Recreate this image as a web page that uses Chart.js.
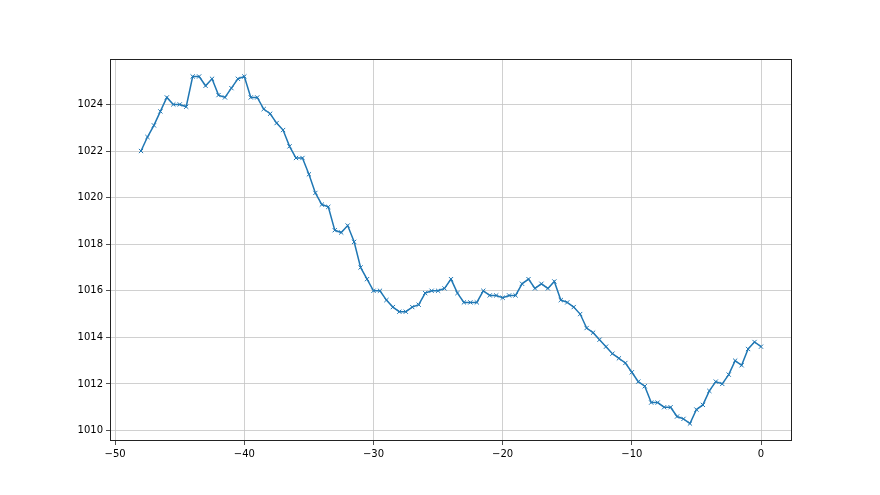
<!DOCTYPE html>
<html>
<head>
<meta charset="utf-8">
<script src="https://cdn.jsdelivr.net/npm/chart.js@4/dist/chart.umd.min.js"></script>
<style>
  html, body { margin: 0; padding: 0; background: #fff; }
  #wrap { width: 880px; height: 495px; }
</style>
</head>
<body>
<div id="wrap"><canvas id="myChart" width="880" height="495"></canvas></div>
<script>
// hours (x) and pressure readings (y)
var hours = [];
for (var h = -48; h <= 0; h += 0.5) hours.push(h);

var pressure = [
  1022.0, 1022.6, 1023.1, 1023.7, 1024.3, 1024.0, 1024.0, 1023.9, 1025.2, 1025.2,
  1024.8, 1025.1, 1024.4, 1024.3, 1024.7, 1025.1, 1025.2, 1024.3, 1024.3, 1023.8,
  1023.6, 1023.2, 1022.9, 1022.2, 1021.7, 1021.7, 1021.0, 1020.2, 1019.7, 1019.6,
  1018.6, 1018.5, 1018.8, 1018.1, 1017.0, 1016.5, 1016.0, 1016.0, 1015.6, 1015.3,
  1015.1, 1015.1, 1015.3, 1015.4, 1015.9, 1016.0, 1016.0, 1016.1, 1016.5, 1015.9,
  1015.5, 1015.5, 1015.5, 1016.0, 1015.8, 1015.8, 1015.7, 1015.8, 1015.8, 1016.3,
  1016.5, 1016.1, 1016.3, 1016.1, 1016.4, 1015.6, 1015.5, 1015.3, 1015.0, 1014.4,
  1014.2, 1013.9, 1013.6, 1013.3, 1013.1, 1012.9, 1012.5, 1012.1, 1011.9, 1011.2,
  1011.2, 1011.0, 1011.0, 1010.6, 1010.5, 1010.3, 1010.9, 1011.1, 1011.7, 1012.1,
  1012.0, 1012.4, 1013.0, 1012.8, 1013.5, 1013.8, 1013.6
];

var xTicks = [-50, -40, -30, -20, -10, 0];
var yTicks = [1010, 1012, 1014, 1016, 1018, 1020, 1022, 1024];

var points = hours.map((x, i) => ({ x: x, y: pressure[i] }));

// plain labels, unicode minus like matplotlib
function fmt(v) {
  return v < 0 ? '\u2212' + Math.abs(v) : String(v);
}

// box around the plot area
var frame = {
  id: 'frame',
  afterDraw(chart) {
    var a = chart.chartArea;
    var c = chart.ctx;
    c.save();
    c.strokeStyle = '#222';
    c.lineWidth = 1;
    c.strokeRect(a.left + 0.5, a.top + 0.5, a.right - a.left - 1, a.bottom - a.top - 1);
    c.restore();
  }
};

var ctx = document.getElementById('myChart').getContext('2d');
new Chart(ctx, {
  type: 'line',
  data: {
    datasets: [{
      data: points,
      borderColor: '#1f77b4',
      borderWidth: 1.5,
      pointStyle: 'crossRot',
      pointRadius: 3,
      pointBorderColor: '#1f77b4',
      pointBorderWidth: 1,
      tension: 0
    }]
  },
  plugins: [frame],
  options: {
    responsive: false,
    animation: false,
    layout: { padding: { left: 0, top: 59, right: 88, bottom: 0 } },
    plugins: { legend: { display: false }, tooltip: { enabled: false } },
    scales: {
      x: {
        type: 'linear',
        min: -50.4,
        max: 2.4,
        afterBuildTicks: (s) => { s.ticks = xTicks.map(v => ({ value: v })); },
        afterFit: (s) => { s.height = 54; },
        grid: { color: '#c4c4c4', lineWidth: 0.8, tickColor: '#222', tickLength: 4 },
        border: { display: false },
        ticks: { color: '#000', font: { family: 'DejaVu Sans', size: 10 }, padding: 3, maxRotation: 0, callback: fmt }
      },
      y: {
        type: 'linear',
        min: 1009.55,
        max: 1025.95,
        afterBuildTicks: (s) => { s.ticks = yTicks.map(v => ({ value: v })); },
        afterFit: (s) => { s.width = 110; },
        grid: { color: '#c4c4c4', lineWidth: 0.8, tickColor: '#222', tickLength: 4 },
        border: { display: false },
        ticks: { color: '#000', font: { family: 'DejaVu Sans', size: 10 }, padding: 3, callback: fmt }
      }
    }
  }
});
</script>
</body>
</html>
